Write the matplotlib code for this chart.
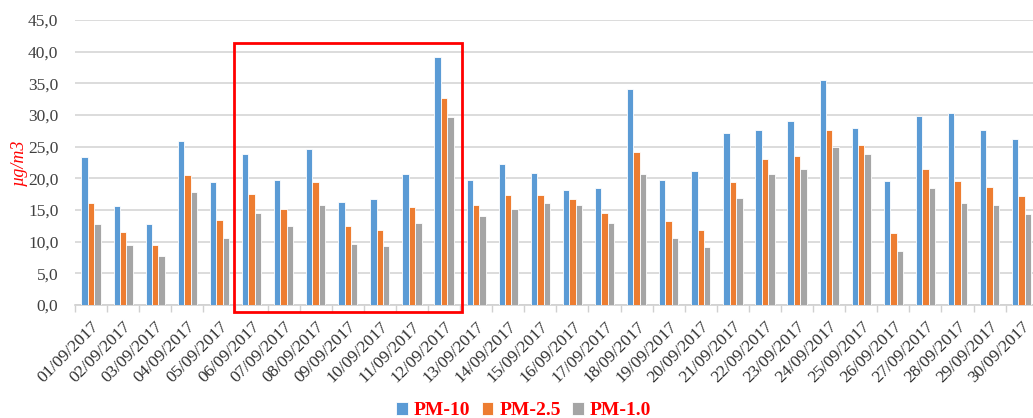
import numpy as np
import matplotlib.pyplot as plt
from matplotlib.patches import Rectangle

# Daily concentrations, September 2017
dates = [f'{d:02d}/09/2017' for d in range(1, 31)]
pm10 = [23.3, 15.6, 12.8, 25.9, 19.4, 23.9, 19.8, 24.6, 16.3, 16.7,
        20.7, 39.1, 19.8, 22.2, 20.9, 18.1, 18.5, 34.1, 19.8, 21.1,
        27.1, 27.7, 29.0, 35.6, 27.9, 19.6, 29.9, 30.3, 27.7, 26.2]
pm25 = [16.1, 11.5, 9.5, 20.5, 13.4, 17.6, 15.2, 19.4, 12.5, 11.9,
        15.4, 32.7, 15.8, 17.4, 17.4, 16.7, 14.5, 24.2, 13.2, 11.9,
        19.4, 23.1, 23.5, 27.7, 25.3, 11.3, 21.4, 19.6, 18.7, 17.2]
pm1 = [12.8, 9.5, 7.7, 17.8, 10.6, 14.5, 12.5, 15.8, 9.7, 9.3,
       13.0, 29.7, 14.1, 15.2, 16.1, 15.8, 13.0, 20.7, 10.6, 9.1,
       16.9, 20.7, 21.4, 24.9, 23.8, 8.6, 18.5, 16.1, 15.8, 14.3]
series = ['PM-10', 'PM-2.5', 'PM-1.0']
colors = ['#5b9bd5', '#ed7d31', '#a5a5a5']

serif = 'Liberation Serif'
fig = plt.figure(figsize=(10.33, 4.18), dpi=100)
ax = fig.add_axes([0.0726, 0.2703, 0.932, 0.6818])

x = np.arange(len(dates))
w = 0.2
for k, (vals, c, name) in enumerate(zip([pm10, pm25, pm1], colors, series)):
    ax.bar(x + (k - 1) * w, vals, width=w, color=c, edgecolor='white',
           linewidth=0.6, label=name, zorder=3)

ax.set_xlim(-0.5, len(dates) - 0.5)
ax.set_ylim(0, 45)
ax.set_yticks(np.arange(0, 46, 5))
ax.set_yticklabels([f'{v:.1f}'.replace('.', ',') for v in np.arange(0, 46, 5)],
                   fontfamily=serif, fontsize=12.5, color='#404040')
ax.set_xticks(x)
ax.set_xticklabels(dates, rotation=45, ha='right', rotation_mode='anchor',
                   fontfamily=serif, fontsize=12.5, color='#303030')
ax.set_xticks(np.arange(-0.5, len(dates), 1), minor=True)
ax.tick_params(axis='x', which='major', length=0, pad=10)
ax.tick_params(axis='x', which='minor', length=5, color='#d0d0d0', width=1)
ax.tick_params(axis='y', length=0, pad=12)

ax.grid(axis='y', color='#d9d9d9', linewidth=1.3, zorder=0)
for s in ['top', 'right', 'left']:
    ax.spines[s].set_visible(False)
ax.spines['bottom'].set_color('#d0d0d0')
ax.spines['bottom'].set_linewidth(1.2)

ax.set_ylabel('µg/m3', fontfamily=serif, fontstyle='italic', fontsize=13,
              color='red', labelpad=0)

# highlight box around 06/09 - 12/09
ax.add_patch(Rectangle((4.46, -1.06), 7.09, 42.36, fill=False, edgecolor='red',
                       linewidth=2, clip_on=False, zorder=5))

fig.legend(loc='lower center', bbox_to_anchor=(0.507, -0.045), ncol=3, frameon=False,
           handlelength=0.6, handleheight=0.6, handletextpad=0.3, columnspacing=0.6,
           prop={'family': serif, 'weight': 'bold', 'size': 14}, labelcolor='red')

fig.savefig('out.png', dpi=100)
